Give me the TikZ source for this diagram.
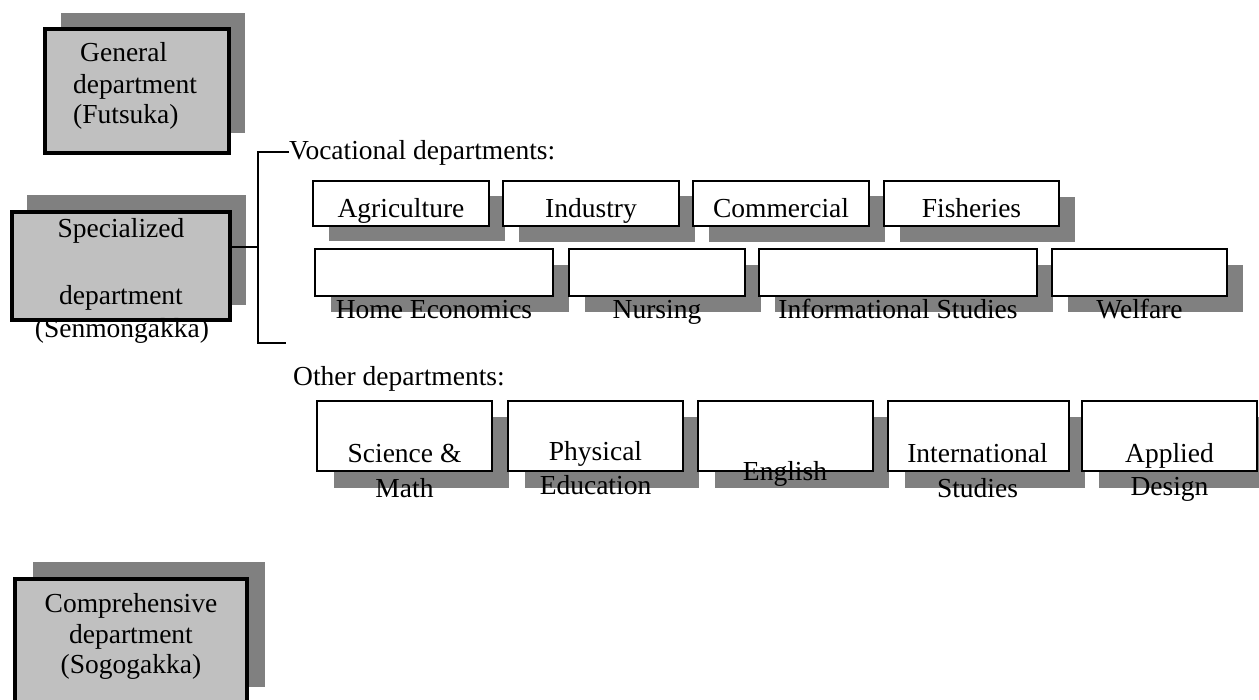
\documentclass[tikz,border=0pt]{standalone}
\usepackage{fontspec}
\setmainfont{Liberation Serif}
\definecolor{shadegray}{RGB}{128,128,128}
\definecolor{facegray}{RGB}{192,192,192}
\tikzset{
  shad/.style={fill=shadegray, draw=none, inner sep=0pt, outer sep=0pt},
  graybox/.style={fill=facegray, draw=black, line width=3.2pt, inner sep=0pt},
  whitebox/.style={fill=white, draw=black, line width=2.6pt, inner sep=0pt},
  lbl/.style={inner sep=0pt, font=\fontsize{27.5}{31.6}\selectfont},
  conn/.style={draw=black, line width=1.1pt},
}
\newcommand{\rectnode}[6]{\node[#1, minimum width={(#5)-(#3)}, minimum height={(#6)-(#4)}] (#2) at ({((#3)+(#5))/2},{((#4)+(#6))/2}) {};}
\begin{document}
\begin{tikzpicture}[x=1pt,y=-1pt]
\useasboundingbox (0,0) rectangle (1259,700);
\clip (0,0) rectangle (1259,700);
% ---- shadows
\rectnode{shad}{genS}{61}{13}{245}{133}
\rectnode{shad}{specS}{27}{195}{246}{305}
\rectnode{shad}{compS}{33}{562}{265}{687}
\rectnode{shad}{agrS}{329}{196}{505}{241}
\rectnode{shad}{indS}{519}{196}{695}{242}
\rectnode{shad}{comS}{709}{196}{885}{242}
\rectnode{shad}{fisS}{900}{197}{1075}{242}
\rectnode{shad}{homeS}{331}{265}{569}{312}
\rectnode{shad}{nurS}{585}{265}{761}{312}
\rectnode{shad}{infS}{775}{265}{1053}{312}
\rectnode{shad}{welS}{1068}{265}{1243}{312}
\rectnode{shad}{sciS}{334}{417}{509}{488}
\rectnode{shad}{phyS}{525}{417}{699}{488}
\rectnode{shad}{engS}{715}{417}{889}{488}
\rectnode{shad}{intS}{905}{417}{1085}{488}
\rectnode{shad}{appS}{1099}{417}{1275}{488}
% ---- front boxes
\rectnode{graybox}{gen}{45}{29}{229}{153}
\rectnode{graybox}{spec}{12}{212}{230}{320}
\rectnode{graybox}{comp}{15}{579}{247}{720}
\rectnode{whitebox}{agr}{313}{181}{489}{226}
\rectnode{whitebox}{ind}{503}{181}{679}{226}
\rectnode{whitebox}{com}{693}{181}{869}{226}
\rectnode{whitebox}{fis}{884}{181}{1059}{226}
\rectnode{whitebox}{home}{315}{249}{553}{296}
\rectnode{whitebox}{nur}{569}{249}{745}{296}
\rectnode{whitebox}{inf}{759}{249}{1037}{296}
\rectnode{whitebox}{wel}{1052}{249}{1227}{296}
\rectnode{whitebox}{sci}{317}{401}{492}{471}
\rectnode{whitebox}{phy}{508}{401}{683}{471}
\rectnode{whitebox}{eng}{698}{401}{873}{471}
\rectnode{whitebox}{int}{888}{401}{1069}{471}
\rectnode{whitebox}{app}{1082}{401}{1257}{471}
% ---- headings and bracket
\node[lbl, anchor=base west] (voc) at (289,160) {Vocational departments:};
\node[lbl, anchor=base west] (oth) at (293,385.5) {Other departments:};
\coordinate (jn) at (258,247);
\coordinate (bt) at (258,152);
\coordinate (bb) at (258,343);
\coordinate (bbE) at (286,343);
\draw[conn] (spec.east |- jn) -- (jn);
\draw[conn] (voc.west |- bt) -- (bt) -- (bb) -- (bbE);
% ---- texts of big boxes
\node[lbl, anchor=base west] (gen1) at (80,62) {General};
\node[lbl, anchor=base west] (gen2) at (73,93.5) {department};
\node[lbl, anchor=base west] (gen3) at (73,124) {(Futsuka)};
\node[lbl, anchor=base] (spec1) at (121,238) {Specialized};
\node[lbl, anchor=base] (spec2) at (121,305) {department};
\node[lbl, anchor=base] (spec3) at (122,337.5) {(Senmongakka)};
\node[lbl, anchor=base] (comp1) at (131,612) {Comprehensive};
\node[lbl, anchor=base] (comp2) at (131,643) {department};
\node[lbl, anchor=base] (comp3) at (131,673) {(Sogogakka)};
% ---- row 1
\node[lbl, anchor=base] (tagr) at (401,217.5) {Agriculture};
\node[lbl, anchor=base] (tind) at (591,217.5) {Industry};
\node[lbl, anchor=base] (tcom) at (781,217.5) {Commercial};
\node[lbl, anchor=base] (tfis) at (971.5,217.5) {Fisheries};
% ---- row 2
\node[lbl, anchor=base] (thome) at (434,319) {Home Economics};
\node[lbl, anchor=base] (tnur) at (657,319) {Nursing};
\node[lbl, anchor=base] (tinf) at (898,319) {Informational Studies};
\node[lbl, anchor=base] (twel) at (1139.5,319) {Welfare};
% ---- row 3
\node[lbl, anchor=base] (tsci1) at (404.5,463) {Science \&};
\node[lbl, anchor=base] (tsci2) at (404.5,497) {Math};
\node[lbl, anchor=base] (tphy1) at (595.5,460.5) {Physical};
\node[lbl, anchor=base] (tphy2) at (595.5,495) {Education};
\node[lbl, anchor=base] (teng) at (785,481) {English};
\node[lbl, anchor=base] (tint1) at (977.5,463) {International};
\node[lbl, anchor=base] (tint2) at (977.5,497) {Studies};
\node[lbl, anchor=base] (tapp1) at (1169.5,463) {Applied};
\node[lbl, anchor=base] (tapp2) at (1169.5,496) {Design};
\end{tikzpicture}
\end{document}
